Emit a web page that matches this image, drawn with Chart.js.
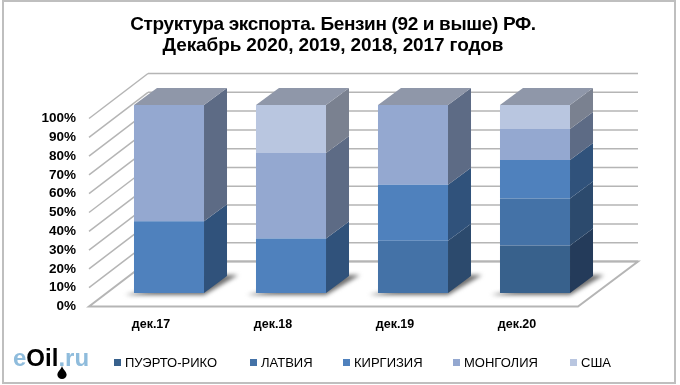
<!DOCTYPE html>
<html>
<head>
<meta charset="utf-8">
<script src="https://cdn.jsdelivr.net/npm/chart.js@4"></script>
<style>
html,body{margin:0;padding:0;background:#fff;}
#wrap{position:relative;width:680px;height:385px;overflow:hidden;font-family:"Liberation Sans",Arial,sans-serif;}
#frame{position:absolute;left:2px;top:0;width:670px;height:380px;border:2px solid #bfbfbf;}
canvas{position:absolute;left:0;top:0;}
#title{position:absolute;left:0;top:13px;width:666px;text-align:center;font-weight:bold;font-size:19px;line-height:21px;color:#000;letter-spacing:-.35px;}
#title span{letter-spacing:-.12px;}
#legend{position:absolute;top:355px;left:0;height:15px;font-size:13px;line-height:15px;color:#000;}
#legend span{position:absolute;white-space:nowrap;}
#legend i{position:absolute;top:4px;width:7px;height:7px;}
#logo{position:absolute;left:13px;top:344px;font-weight:bold;font-size:24px;line-height:28px;color:#000;}
#logo b{color:#8fbcdc;font-weight:bold;}
#drop{position:absolute;left:57px;top:366px;}
</style>
</head>
<body>
<div id="wrap">
  <div id="frame"></div>
  <canvas id="c" width="680" height="385"></canvas>
  <div id="title">Структура экспорта. Бензин (92 и выше) РФ.<br><span>Декабрь 2020, 2019, 2018, 2017 годов</span></div>
  <div id="legend"></div>
  <div id="logo"><b>e</b>Oil<b>.ru</b></div>
  <svg id="drop" width="10" height="13" viewBox="0 0 10 14"><path d="M5 0C4 4 0 6 0 9.500A5 4.500 0 0 0 10 9.500C10 6 6 4 5 0Z" fill="#000"/></svg>
</div>
<script>
const categories = ['дек.17','дек.18','дек.19','дек.20'];
const seriesNames = ['ПУЭРТО-РИКО','ЛАТВИЯ','КИРГИЗИЯ','МОНГОЛИЯ','США'];

const puertoRico = [0,0,0,25.3];
const latvia     = [0,0,27.8,25];
const kyrgyzstan = [38.1,29,29.8,20.4];
const mongolia   = [61.9,45.5,42.4,16.5];
const usa        = [0,25.5,0,12.8];

const frontColors = ['#38618c','#4472a7','#4f81bd','#94a8d0','#b9c6e0'];
const sideColors  = ['#243b5a','#2c4a6d','#30527b','#5d6b85','#7a8190'];
const topColor = '#8f97a9';
const legendX = [114,250,343,453,570];

// depth of the fake 3d box, relative to the plane of the bar fronts
const barDepth = {x:23, y:17};
const wallOffset = {x:40, y:31.5};
const frontOffset = {x:-19, y:13.5};
const gridColor = '#b5b5b5';

function line(ctx,x1,y1,x2,y2){ ctx.beginPath(); ctx.moveTo(x1,y1); ctx.lineTo(x2,y2); ctx.stroke(); }
function poly(ctx,pts,fill){
  ctx.beginPath();
  pts.forEach((p,i)=> i ? ctx.lineTo(p[0],p[1]) : ctx.moveTo(p[0],p[1]));
  ctx.closePath();
  ctx.fillStyle = fill;
  ctx.fill();
}

const box3d = {
  id:'box3d',
  beforeDatasetsDraw(chart){
    const ctx = chart.ctx, y = chart.scales.y;
    const wallL = 148, wallR = 638;
    ctx.save();
    ctx.strokeStyle = gridColor;
    ctx.lineWidth = 1.5;
    y.ticks.forEach(t=>{
      const py = y.getPixelForValue(t.value);
      line(ctx, wallL, py-wallOffset.y, wallR, py-wallOffset.y);
      if(t.value>0) line(ctx, 89, py+frontOffset.y, wallL, py-wallOffset.y);
    });
    // floor
    const base = y.getPixelForValue(0);
    ctx.lineWidth = 2;
    ctx.beginPath();
    ctx.moveTo(wallL, base-wallOffset.y);
    ctx.lineTo(89, base+frontOffset.y);
    ctx.lineTo(578, base+frontOffset.y);
    ctx.lineTo(wallR, base-wallOffset.y);
    ctx.closePath();
    ctx.fillStyle = '#fff';
    ctx.fill();
    ctx.stroke();
    ctx.lineWidth = 1.5;
    line(ctx, wallL, base-wallOffset.y, wallR, base-wallOffset.y);
    // shadows under the bars
    ctx.filter = 'blur(2px)';
    chart.getDatasetMeta(0).data.forEach(bar=>{
      const l = bar.x-bar.width/2, r = bar.x+bar.width/2;
      poly(ctx, [[l-9,base+2],[r,base+2],[r+34,base-18],[r+20,base-18]], '#6f6f6f');
    });
    ctx.restore();
  },
  afterDatasetsDraw(chart){
    const ctx = chart.ctx, d = barDepth;
    ctx.save();
    const tops = {};
    chart.data.datasets.forEach((ds,i)=>{
      chart.getDatasetMeta(i).data.forEach((bar,j)=>{
        if(!ds.data[j]) return;
        const r = bar.x+bar.width/2;
        poly(ctx, [[r,bar.y],[r+d.x,bar.y-d.y],[r+d.x,bar.base-d.y],[r,bar.base]], sideColors[i]);
        tops[j] = bar;
      });
    });
    Object.values(tops).forEach(bar=>{
      const l = bar.x-bar.width/2, r = bar.x+bar.width/2;
      poly(ctx, [[l,bar.y],[r,bar.y],[r+d.x,bar.y-d.y],[l+d.x,bar.y-d.y]], topColor);
    });
    ctx.restore();
  }
};

const allSeries = [puertoRico,latvia,kyrgyzstan,mongolia,usa];

new Chart(document.getElementById('c'), {
  type:'bar',
  plugins:[box3d],
  data:{
    labels:categories,
    datasets:allSeries.map((vals,i)=>({
      label:seriesNames[i], data:vals, backgroundColor:frontColors[i],
      borderWidth:0, barPercentage:1, categoryPercentage:0.574
    }))
  },
  options:{
    responsive:false, animation:false,
    layout:{padding:{top:105,right:84,bottom:0,left:0}},
    plugins:{legend:{display:false},title:{display:false},tooltip:{enabled:false}},
    scales:{
      x:{
        stacked:true,
        afterFit(s){ s.height = 92; },
        border:{display:false}, grid:{display:false},
        ticks:{color:'#000',font:{family:'"Liberation Sans"',weight:'bold',size:12.5},labelOffset:-18,padding:16,maxRotation:0}
      },
      y:{
        stacked:true, min:0, max:100,
        afterFit(s){ s.width = 108; },
        border:{display:false}, grid:{display:false},
        ticks:{stepSize:10,autoSkip:false,color:'#000',font:{family:'"Liberation Sans"',weight:'bold',size:13.5},labelOffset:13.5,padding:24,callback:v=>v+'%'}
      }
    }
  }
});

document.getElementById('legend').innerHTML = seriesNames.map((n,i)=>
  `<i style="left:${legendX[i]}px;background:${frontColors[i]}"></i><span style="left:${legendX[i]+11}px">${n}</span>`).join('');
</script>
</body>
</html>
